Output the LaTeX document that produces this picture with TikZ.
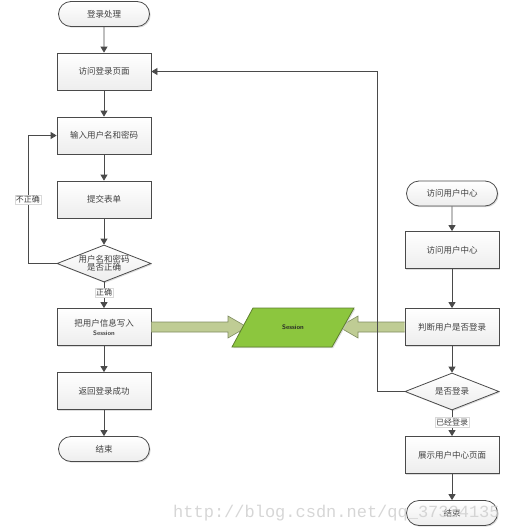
\documentclass[tikz,border=0pt]{standalone}
\usepackage{fontspec}
\newfontfamily\cjk{Noto Sans CJK SC}
\newfontfamily\wm{Liberation Mono}
\usetikzlibrary{arrows.meta,shapes.geometric,shapes.misc,shadows}
\definecolor{lineg}{HTML}{4A4A4A}
\definecolor{shaftfill}{HTML}{BFCC94}
\definecolor{shaftdraw}{HTML}{7F8C60}
\definecolor{sessfill}{HTML}{8CC63E}
\definecolor{sessdraw}{HTML}{5E7F2E}
\tikzset{
  base/.style={draw=lineg, line width=0.8pt, top color=white, bottom color=gray!14,
    font=\cjk\fontsize{8.5}{10}\selectfont, text=black!75, align=center,
    drop shadow={shadow xshift=1.2pt, shadow yshift=-1.2pt, fill=gray!45, opacity=0.6}},
  procbox/.style={base, rectangle, minimum width=94pt, minimum height=37pt, inner sep=1pt},
  termbox/.style={base, rounded rectangle, minimum width=93pt, minimum height=25pt, inner sep=1pt},
  decbox/.style={base, diamond, aspect=2.54, minimum width=94pt, minimum height=37pt, inner sep=0pt},
  conn/.style={draw=lineg, line width=0.8pt, -{Triangle[length=6pt,width=7pt]}},
  lbl/.style={fill=white, draw=gray!30, line width=0.3pt, inner sep=1pt, font=\cjk\fontsize{8}{9}\selectfont, text=black!75},
  fat/.style={draw=shaftdraw, fill=shaftfill, line width=0.6pt},
  sessshape/.style={draw=sessdraw, fill=sessfill, line width=0.8pt,
    drop shadow={shadow xshift=1.2pt, shadow yshift=-1.2pt, fill=gray!45, opacity=0.6}},
}
\begin{document}
\begin{tikzpicture}[x=1pt,y=-1pt]
\useasboundingbox (0,0) rectangle (506,530);
% left column
\node[termbox] (start) at (104,14) {登录处理};
\node[procbox] (visit) at (104,71.5) {访问登录页面};
\node[procbox] (input) at (104,135.5) {输入用户名和密码};
\node[procbox] (submit) at (104,199.5) {提交表单};
\node[decbox] (check) at (104,263.5) {用户名和密码\\[-2pt]是否正确};
\node[procbox] (write) at (104,327) {把用户信息写入\\[-1pt]{\sffamily\bfseries\fontsize{6.5}{7}\selectfont Session}};
\node[procbox] (ok) at (104,391) {返回登录成功};
\node[termbox] (end1) at (104,449) {结束};
% right column
\node[termbox] (ustart) at (452,193.5) {访问用户中心};
\node[procbox] (uvisit) at (452,250) {访问用户中心};
\node[procbox] (judge) at (452,327) {判断用户是否登录};
\node[decbox] (logged) at (452,391.5) {是否登录};
\node[procbox] (show) at (452,455) {展示用户中心页面};
\node[termbox] (end2) at (452,513) {结束};
% fat arrows (drawn under the session shape)
\filldraw[fat] (write.east |- 0,322) -- (228,322) -- (228,316) -- (247,327) -- (228,338) -- (228,332) -- (write.east |- 0,332);
\filldraw[fat] (judge.west |- 0,322) -- (358,322) -- (358,316) -- (339,327) -- (358,338) -- (358,332) -- (judge.west |- 0,332);
% session parallelogram
\coordinate (s1) at (253,308);
\coordinate (s2) at (354,308);
\coordinate (s3) at (332,347);
\coordinate (s4) at (232,347);
\path[sessshape] (s1) -- (s2) -- (s3) -- (s4) -- cycle;
\node[font=\sffamily\bfseries\fontsize{6.5}{7}\selectfont, text=black!85] (sess) at (293,327) {Session};
% connectors left
\draw[conn] (start) -- (visit);
\draw[conn] (visit) -- (input);
\draw[conn] (input) -- (submit);
\draw[conn] (submit) -- (check);
\draw[conn] (check) -- node[lbl, pos=0.4] {正确} (write);
\draw[conn] (write) -- (ok);
\draw[conn] (ok) -- (end1);
\coordinate (lp1) at (28,263.5);
\coordinate (lp2) at (28,135.5);
\draw[conn] (check.west) -- (lp1) -- node[lbl, pos=0.5] {不正确} (lp2) -- (input.west);
% connectors right
\draw[conn] (ustart) -- (uvisit);
\draw[conn] (uvisit) -- (judge);
\draw[conn] (judge) -- (logged);
\draw[conn] (logged) -- node[lbl, pos=0.45] {已经登录} (show);
\draw[conn] (show) -- (end2);
\coordinate (rp1) at (377,391.5);
\coordinate (rp2) at (377,71.5);
\draw[conn] (logged.west) -- (rp1) -- (rp2) -- (visit.east);
% watermark
\node[font=\wm\fontsize{17}{18}\selectfont, text=gray!40, opacity=0.8, anchor=base west, inner sep=0pt] (wmark) at (173,517) {http://blog.csdn.net/qq\_37334135};
\end{tikzpicture}
\end{document}
